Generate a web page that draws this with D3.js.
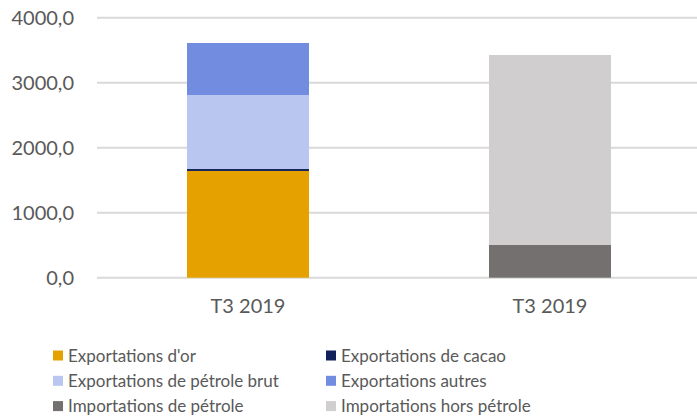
<!DOCTYPE html>
<html><head><meta charset="utf-8">
<script src="https://cdn.jsdelivr.net/npm/d3@7"></script>
<style>body{margin:0;background:#fff;} svg{display:block;font-family:Lato,"Open Sans",sans-serif;}</style>
</head><body>
<svg id="c" width="697" height="419"></svg>
<script>
const categories = ["T3 2019 a", "T3 2019 b"];
const categoryLabels = ["T3 2019", "T3 2019"];
const seriesNames = ["Exportations d'or", "Exportations de cacao", "Exportations de pétrole brut", "Exportations autres", "Importations de pétrole", "Importations hors pétrole"];
const seriesColors = ["#E5A100", "#13215A", "#B9C7F0", "#728DE0", "#757070", "#D0CECE"];
const orValues = [1642, 0];
const cacaoValues = [30, 0];
const petroleBrutValues = [1139, 0];
const autresValues = [800, 0];
const importPetroleValues = [0, 503];
const importHorsPetroleValues = [0, 2923];
const yTicks = [0, 1000, 2000, 3000, 4000];

const series = [orValues, cacaoValues, petroleBrutValues, autresValues, importPetroleValues, importHorsPetroleValues];
const rows = categories.map((c, i) => {
  const r = {cat: c};
  seriesNames.forEach((n, j) => r[n] = series[j][i]);
  return r;
});
const stack = d3.stack().keys(seriesNames)(rows);

const svg = d3.select("#c");
const x = d3.scaleBand().domain(categories).range([97, 701]).paddingInner(0.596).paddingOuter(0.298);
const y = d3.scaleLinear().domain([0, 4000]).range([277.7, 17.7]);
const fmt = v => d3.format(".1f")(v).replace(".", ",");

// gridlines
svg.append("g").selectAll("line").data(yTicks).join("line")
  .attr("x1", 97).attr("x2", 697)
  .attr("y1", d => y(d)).attr("y2", d => y(d))
  .attr("stroke", "#d9d9d9").attr("stroke-width", 2);

// y labels
svg.append("g").selectAll("text").data(yTicks).join("text")
  .attr("x", 74).attr("y", d => y(d)).attr("dy", "0.36em")
  .attr("text-anchor", "end").attr("fill", "#595959").attr("font-size", 20)
  .text(fmt);

// bars
svg.append("g").selectAll("g").data(stack).join("g")
  .attr("fill", (d, i) => seriesColors[i])
  .selectAll("rect").data(d => d).join("rect")
  .attr("x", d => x(d.data.cat)).attr("width", x.bandwidth())
  .attr("y", d => y(d[1])).attr("height", d => y(d[0]) - y(d[1]));

// x labels
svg.append("g").selectAll("text").data(categories).join("text")
  .attr("x", d => x(d) + x.bandwidth() / 2).attr("y", 306).attr("dy", "0.36em")
  .attr("text-anchor", "middle").attr("fill", "#595959").attr("font-size", 20)
  .text((d, i) => categoryLabels[i]);

// legend
const lg = svg.append("g").selectAll("g").data(seriesNames).join("g")
  .attr("transform", (d, i) => `translate(${i % 2 === 0 ? 53 : 326},${355.5 + Math.floor(i / 2) * 25.3})`);
lg.append("rect").attr("x", 0).attr("y", -5).attr("width", 10).attr("height", 10)
  .attr("fill", (d, i) => seriesColors[i]);
lg.append("text").attr("x", 15).attr("y", 0).attr("dy", "0.36em")
  .attr("fill", "#595959").attr("font-size", 17).text(d => d);
</script>
</body></html>
